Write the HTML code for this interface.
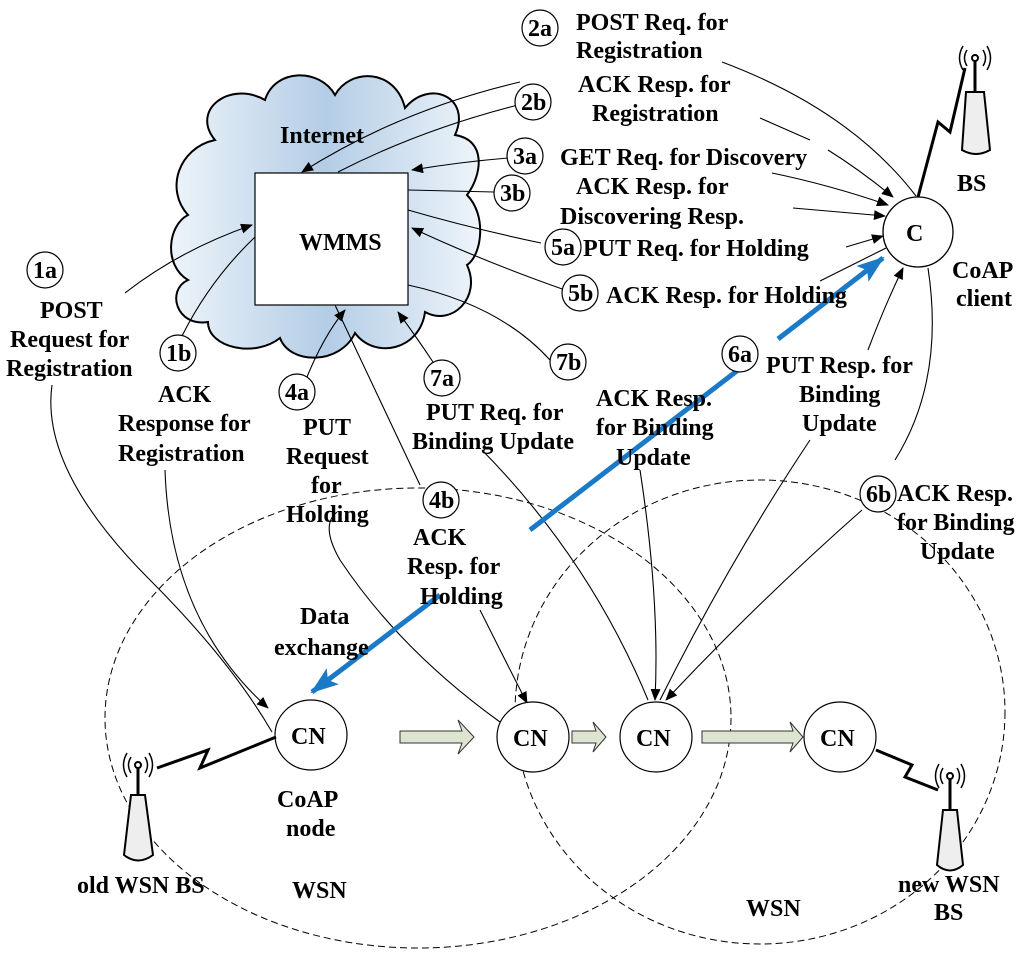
<!DOCTYPE html>
<html><head><meta charset="utf-8"><style>
html,body{margin:0;padding:0;background:#fff;}
svg text{font-family:"Liberation Serif",serif;font-weight:bold;font-size:24px;fill:#000;}
</style></head><body>
<svg width="1024" height="960" viewBox="0 0 1024 960" xmlns="http://www.w3.org/2000/svg">
<defs>
<linearGradient id="cg" x1="0" x2="1" y1="0" y2="0">
<stop offset="0" stop-color="#eef4fa"/><stop offset="0.5" stop-color="#b3cde6"/><stop offset="1" stop-color="#eef4fa"/>
</linearGradient>
<marker id="ar" markerWidth="12" markerHeight="10" refX="11" refY="5" orient="auto" markerUnits="userSpaceOnUse"><path d="M0,0 L12,5 L0,10 z" fill="#000"/></marker>
<marker id="ab" markerWidth="28" markerHeight="20" refX="26" refY="10" orient="auto" markerUnits="userSpaceOnUse"><path d="M0,0 L28,10 L0,20 L6,10 z" fill="#1b7ac8"/></marker>
</defs>

<!-- cloud -->
<path d="M215,140 C190,110 230,80 265,100 C275,68 320,68 335,95 C350,68 395,68 405,108 C430,78 472,98 455,135 C487,140 482,175 467,195 C487,215 482,255 467,265 C482,297 452,327 425,312 C420,350 375,360 355,333 C340,365 290,365 280,338 C255,358 208,348 208,322 C176,327 166,290 188,280 C163,265 168,225 188,215 C165,190 178,148 215,140 z" fill="url(#cg)" stroke="#000" stroke-width="2"/>
<text x="280" y="143">Internet</text>
<rect x="255" y="173" width="153" height="132" fill="#fff" stroke="#000" stroke-width="1.2"/>
<text x="299" y="250">WMMS</text>

<!-- dashed WSN ellipses -->
<ellipse cx="418" cy="718" rx="313" ry="230" fill="none" stroke="#000" stroke-dasharray="7,4" stroke-width="1"/>
<ellipse cx="760" cy="712" rx="245" ry="232" fill="none" stroke="#000" stroke-dasharray="7,4" stroke-width="1"/>

<g fill="none" stroke="#000" stroke-width="1.1">
<path d="M125,293 Q180,250 252,225" marker-end="url(#ar)"/>
<path d="M52,385 Q40,470 150,580 Q230,660 272,732"/>
<path d="M255,237 Q210,280 182,336"/>
<path d="M165,470 Q170,620 268,708" marker-end="url(#ar)"/>
<path d="M520,82 Q400,110 302,172" marker-end="url(#ar)"/>
<path d="M518,105 Q420,130 338,172"/>
<path d="M508,158 Q460,162 412,170" marker-end="url(#ar)"/>
<path d="M408,190 L494,192"/>
<path d="M408,210 Q470,228 541,243"/>
<path d="M565,290 Q480,260 412,228" marker-end="url(#ar)"/>
<path d="M408,285 Q500,305 550,360"/>
<path d="M300,395 Q320,340 345,310" marker-end="url(#ar)"/>
<path d="M337,512 Q320,525 340,560 Q400,650 500,722"/>
<path d="M335,305 Q380,400 420,485"/>
<path d="M480,610 Q505,660 527,703" marker-end="url(#ar)"/>
<path d="M433,362 Q415,335 398,312" marker-end="url(#ar)"/>
<path d="M482,450 Q590,560 648,700"/>
<path d="M640,470 Q660,600 655,700" marker-end="url(#ar)"/>
<path d="M810,440 Q730,560 660,700"/>
<path d="M868,350 Q885,305 903,268" marker-end="url(#ar)"/>
<path d="M862,510 Q760,600 666,700" marker-end="url(#ar)"/>
<path d="M722,62 Q850,110 916,196"/>
<path d="M928,268 Q945,380 895,460"/>
<path d="M760,118 L810,140"/>
<path d="M828,150 Q860,170 893,197" marker-end="url(#ar)"/>
<path d="M772,173 Q830,185 888,205" marker-end="url(#ar)"/>
<path d="M793,208 L885,216" marker-end="url(#ar)"/>
<path d="M846,247 L883,236" marker-end="url(#ar)"/>
<path d="M820,281 L886,248"/>
</g>

<!-- blue data exchange -->
<g stroke="#1b7ac8" stroke-width="5" fill="none">
<path d="M530,530 L742,367"/>
<path d="M778,339 L883,258" marker-end="url(#ab)"/>
<path d="M440,595 L312,692" marker-end="url(#ab)"/>
</g>

<!-- C node -->
<circle cx="918" cy="232" r="35" fill="#fff" stroke="#000" stroke-width="1.3"/>
<text x="906" y="241">C</text>
<text x="952" y="278">CoAP</text>
<text x="956" y="306">client</text>

<!-- BS top right -->
<path d="M918,197 L938,122 L950,132 L965,68" fill="none" stroke="#000" stroke-width="3"/>
<path d="M962,150 L966,92 L984,92 L990,150 Q976,158 962,150 z" fill="#eee" stroke="#000" stroke-width="2"/>
<line x1="975" y1="60" x2="975" y2="92" stroke="#000" stroke-width="3"/>
<circle cx="975" cy="58" r="3" fill="#fff" stroke="#000" stroke-width="2"/>
<path d="M967,50 Q962,58 967,66 M983,50 Q988,58 983,66 M963,46 Q956,58 963,70 M987,46 Q994,58 987,70" fill="none" stroke="#000" stroke-width="1.5"/>
<text x="957" y="191">BS</text>

<!-- CN nodes -->
<g fill="#fff" stroke="#000" stroke-width="1.2">
<ellipse cx="311" cy="735" rx="36" ry="35"/>
<ellipse cx="533" cy="737" rx="36" ry="35"/>
<ellipse cx="656" cy="737" rx="36" ry="35"/>
<ellipse cx="840" cy="737" rx="36" ry="35"/>
</g>
<text x="291" y="744">CN</text><text x="513" y="746">CN</text><text x="636" y="746">CN</text><text x="820" y="746">CN</text>

<!-- block arrows -->
<g fill="#dde5d0" stroke="#333" stroke-width="1">
<path d="M400,731 L462,731 L458,720 L474,737 L458,754 L462,743 L400,743 z"/>
<path d="M572,731 L596,731 L593,722 L606,737 L593,752 L596,743 L572,743 z"/>
<path d="M702,731 L793,731 L790,722 L803,737 L790,752 L793,743 L702,743 z"/>
</g>

<!-- old WSN BS -->
<path d="M157,768 L208,750 L200,768 L276,737" fill="none" stroke="#000" stroke-width="3"/>
<path d="M124,855 L131,795 L145,795 L153,855 Q138,866 124,855 z" fill="#eee" stroke="#000" stroke-width="2"/>
<line x1="138" y1="767" x2="138" y2="795" stroke="#000" stroke-width="3"/>
<circle cx="138" cy="765" r="3" fill="#fff" stroke="#000" stroke-width="2"/>
<path d="M131,757 Q126,765 131,773 M145,757 Q150,765 145,773 M127,753 Q120,765 127,777 M149,753 Q156,765 149,777" fill="none" stroke="#000" stroke-width="1.5"/>
<text x="77" y="893">old WSN BS</text>
<text x="277" y="807">CoAP</text>
<text x="286" y="836">node</text>
<text x="292" y="898">WSN</text>

<!-- new WSN BS -->
<path d="M876,750 L912,765 L905,777 L938,790" fill="none" stroke="#000" stroke-width="3"/>
<path d="M937,865 L943,810 L957,810 L963,865 Q950,876 937,865 z" fill="#eee" stroke="#000" stroke-width="2"/>
<line x1="950" y1="778" x2="950" y2="810" stroke="#000" stroke-width="3"/>
<circle cx="950" cy="776" r="3" fill="#fff" stroke="#000" stroke-width="2"/>
<path d="M943,768 Q938,776 943,784 M957,768 Q962,776 957,784 M939,764 Q932,776 939,788 M961,764 Q968,776 961,788" fill="none" stroke="#000" stroke-width="1.5"/>
<text x="898" y="892">new WSN</text>
<text x="934" y="920">BS</text>
<text x="746" y="916">WSN</text>

<!-- circled numbers -->
<g fill="#fff" stroke="#000" stroke-width="1.2">
<circle cx="540" cy="28" r="18"/><circle cx="533" cy="102" r="18"/><circle cx="525" cy="156" r="18"/>
<circle cx="512" cy="193" r="18"/><circle cx="563" cy="247" r="18"/><circle cx="580" cy="293" r="18"/>
<circle cx="45" cy="270" r="18"/><circle cx="178" cy="353" r="18"/><circle cx="297" cy="392" r="18"/>
<circle cx="442" cy="378" r="18"/><circle cx="568" cy="362" r="18"/><circle cx="441" cy="500" r="18"/>
<circle cx="740" cy="354" r="18"/><circle cx="878" cy="494" r="18"/>
</g>
<g font-size="21">
<text x="528" y="36">2a</text><text x="521" y="110">2b</text><text x="513" y="164">3a</text>
<text x="500" y="201">3b</text><text x="551" y="255">5a</text><text x="568" y="301">5b</text>
<text x="33" y="278">1a</text><text x="166" y="361">1b</text><text x="285" y="400">4a</text>
<text x="430" y="386">7a</text><text x="556" y="370">7b</text><text x="429" y="508">4b</text>
<text x="728" y="362">6a</text><text x="866" y="502">6b</text>
</g>

<!-- labels -->
<text x="576" y="30">POST Req. for</text>
<text x="576" y="58">Registration</text>
<text x="578" y="92">ACK Resp. for</text>
<text x="592" y="121">Registration</text>
<text x="560" y="165">GET Req. for Discovery</text>
<text x="576" y="194">ACK Resp. for</text>
<text x="560" y="224">Discovering Resp.</text>
<text x="583" y="256">PUT Req. for Holding</text>
<text x="606" y="303">ACK Resp. for Holding</text>
<text x="40" y="318">POST</text>
<text x="10" y="347">Request for</text>
<text x="6" y="376">Registration</text>
<text x="158" y="402">ACK</text>
<text x="118" y="431">Response for</text>
<text x="118" y="461">Registration</text>
<text x="303" y="435">PUT</text>
<text x="286" y="464">Request</text>
<text x="311" y="493">for</text>
<text x="286" y="522">Holding</text>
<text x="426" y="420">PUT Req. for</text>
<text x="412" y="449">Binding Update</text>
<text x="596" y="406">ACK Resp.</text>
<text x="596" y="435">for Binding</text>
<text x="616" y="465">Update</text>
<text x="766" y="373">PUT Resp. for</text>
<text x="799" y="402">Binding</text>
<text x="802" y="431">Update</text>
<text x="897" y="501">ACK Resp.</text>
<text x="897" y="530">for Binding</text>
<text x="920" y="559">Update</text>
<text x="413" y="545">ACK</text>
<text x="407" y="574">Resp. for</text>
<text x="420" y="604">Holding</text>
<text x="300" y="624">Data</text>
<text x="274" y="655">exchange</text>
</svg>
</body></html>
